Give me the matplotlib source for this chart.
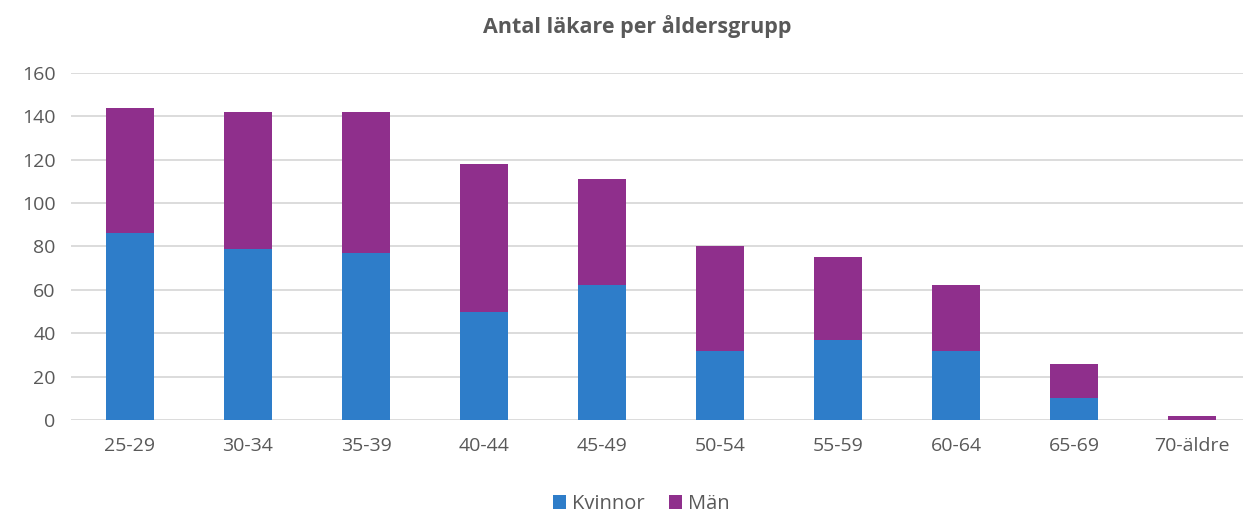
import matplotlib.pyplot as plt
import numpy as np

plt.rcParams["font.family"] = ["Open Sans", "DejaVu Sans"]

grupper = ["25-29", "30-34", "35-39", "40-44", "45-49", "50-54", "55-59", "60-64", "65-69", "70-äldre"]
kvinnor = [86, 79, 77, 50, 62, 32, 37, 32, 10, 0]
man = [58, 63, 65, 68, 49, 48, 38, 30, 16, 2]

text_farg = "#595959"

fig = plt.figure(figsize=(12.43, 5.14), dpi=100)
ax = fig.add_axes([0.057, 0.183, 0.943, 0.675])

x = np.arange(len(grupper))
ax.bar(x, kvinnor, width=0.41, color="#2E7DC9", label="Kvinnor", zorder=3)
ax.bar(x, man, width=0.41, bottom=kvinnor, color="#8F2F8C", label="Män", zorder=3)

ax.set_ylim(0, 160)
ax.set_xlim(-0.5, 9.43)
ax.set_yticks(range(0, 161, 20))
ax.set_xticks(x, grupper)
ax.yaxis.grid(True, color="#D9D9D9", linewidth=1.3, zorder=0)
ax.tick_params(length=0, labelsize=14, colors=text_farg)
ax.tick_params(axis="x", pad=12)
ax.tick_params(axis="y", pad=11)
for s in ax.spines.values():
    s.set_visible(False)

fig.suptitle("Antal läkare per åldersgrupp", fontsize=15.5, fontweight="bold", color=text_farg,
             x=0.513, y=0.97)

fig.legend(loc="lower center", ncol=2, frameon=False, fontsize=14.5, labelcolor=text_farg,
           handlelength=0.65, handleheight=0.65, handletextpad=0.3, columnspacing=1.2,
           bbox_to_anchor=(0.516, -0.035))

plt.savefig("out.png", dpi=100)
